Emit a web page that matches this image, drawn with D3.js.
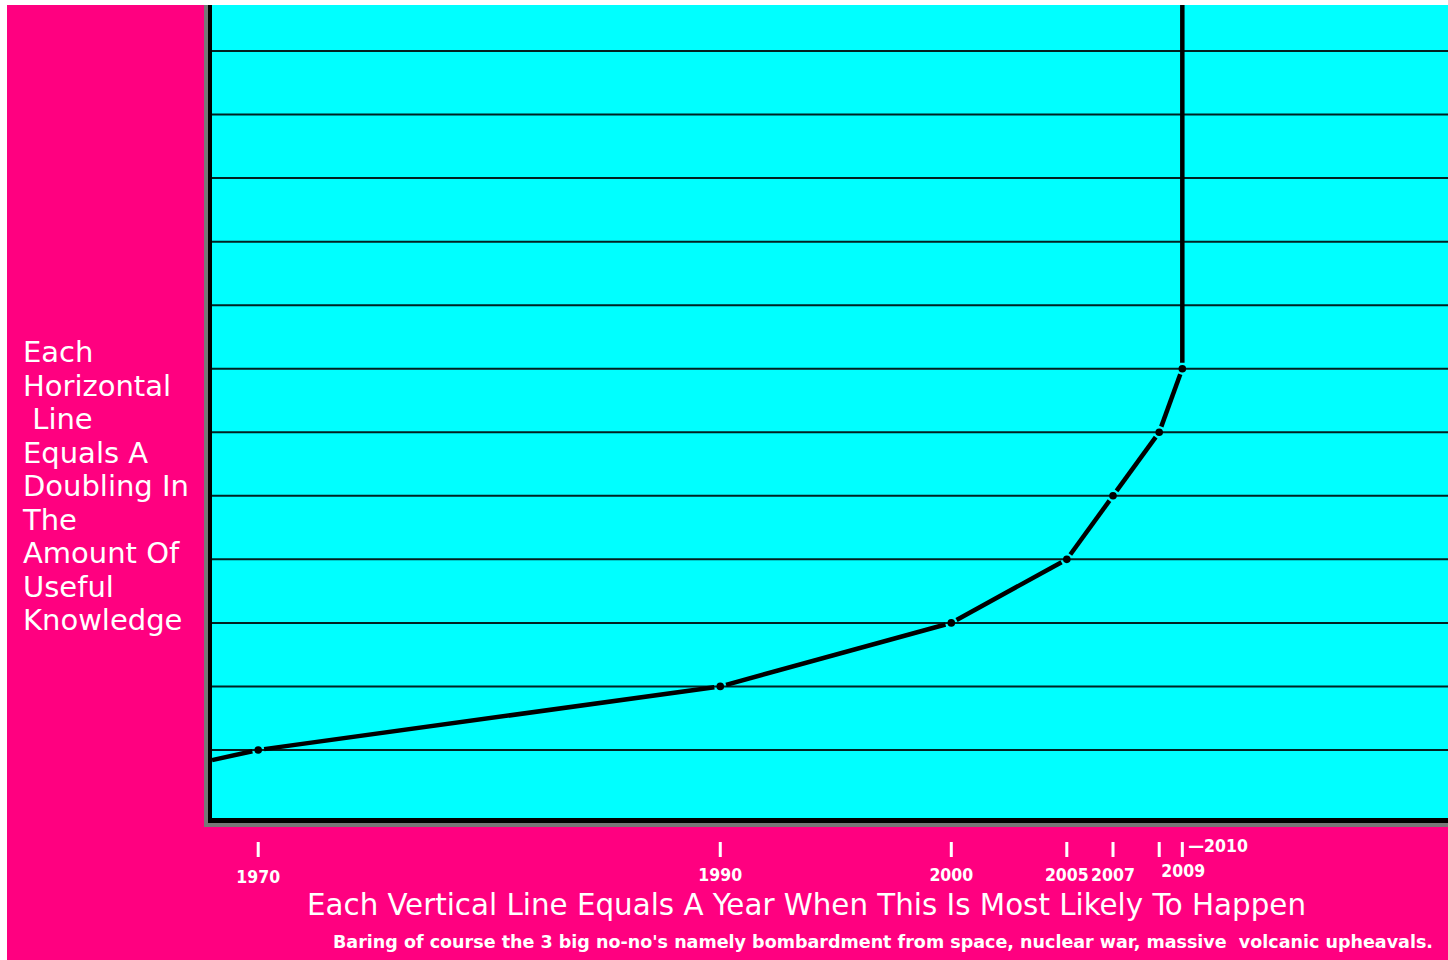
<!DOCTYPE html>
<html>
<head>
<meta charset="utf-8">
<script src="https://cdn.jsdelivr.net/npm/d3@7.9.0/dist/d3.min.js"></script>
<style>
  body { margin: 0; background: #fff; }
  svg { display: block; }
  text { white-space: pre; }
</style>
</head>
<body>
<svg id="chart" width="1448" height="960"></svg>
<script>
// Years written under the axis
const tickYears = [1970, 1990, 2000, 2005, 2007, 2009, 2010];
// The curve: year and number of doublings reached
const curveYears = [1968, 1970, 1990, 2000, 2005, 2007, 2009, 2010];
const curveDoublings = [0.84, 1, 2, 3, 4, 5, 6, 7];
// One horizontal line per doubling
const gridLevels = [1, 2, 3, 4, 5, 6, 7, 8, 9, 10, 11, 12];

const sideLabel = ["Each", "Horizontal", " Line", "Equals A", "Doubling In", "The", "Amount Of", "Useful", "Knowledge"];
const xTitle = "Each Vertical Line Equals A Year When This Is Most Likely To Happen";
const footNote = "Baring of course the 3 big no-no's namely bombardment from space, nuclear war, massive  volcanic upheavals.";

const pink = "#ff0080";
const cyan = "#00ffff";
const condensed = "DejaVu Sans Condensed, DejaVu Sans";

// Plot box
const plotLeft = 212, plotRight = 1448, plotTop = 5, plotBottom = 818;

const svg = d3.select("#chart");

// Backgrounds
svg.append("rect").attr("x", 7).attr("y", 5).attr("width", 1441).attr("height", 955).attr("fill", pink);
svg.append("rect").attr("x", plotLeft).attr("y", plotTop).attr("width", plotRight - plotLeft).attr("height", plotBottom - plotTop).attr("fill", cyan);

const x = d3.scaleLinear().domain([1968, 2021.5]).range([plotLeft, plotRight]);
const y = d3.scaleLinear().domain([0, 12]).range([813.5, 51]);

// Horizontal lines
svg.append("g").selectAll("line")
    .data(gridLevels)
    .enter()
    .append("line")
    .attr("x1", plotLeft)
    .attr("x2", plotRight)
    .attr("y1", d => y(d))
    .attr("y2", d => y(d))
    .attr("stroke", "#022")
    .attr("stroke-width", 2);

// Sunken frame on left and bottom
svg.append("rect").attr("x", 204).attr("y", plotTop).attr("width", 4).attr("height", plotBottom + 9 - plotTop).attr("fill", "#777");
svg.append("rect").attr("x", 204).attr("y", plotBottom + 5).attr("width", plotRight - 204).attr("height", 4).attr("fill", "#777");
svg.append("rect").attr("x", 208).attr("y", plotTop).attr("width", 4).attr("height", plotBottom + 5 - plotTop).attr("fill", "#000");
svg.append("rect").attr("x", 208).attr("y", plotBottom).attr("width", plotRight - 208).attr("height", 5).attr("fill", "#000");

// Curve, drawn as segments with a small gap around each marked point
let pts = curveYears.map((yr, i) => ({ yr: yr, px: x(yr), py: y(curveDoublings[i]), marked: tickYears.includes(yr) }));
// last stretch goes straight up to the top of the box
let last = pts[pts.length - 1];
pts.push({ yr: last.yr, px: last.px, py: plotTop, marked: false });

const gap = 6;
let segs = d3.pairs(pts).map(([a, b]) => {
    let dx = b.px - a.px, dy = b.py - a.py;
    let len = Math.hypot(dx, dy);
    let ga = a.marked ? gap : 0, gb = b.marked ? gap : 0;
    return {
        x1: a.px + dx * ga / len, y1: a.py + dy * ga / len,
        x2: b.px - dx * gb / len, y2: b.py - dy * gb / len
    };
});

let curve = svg.append("g");
curve.selectAll("line")
    .data(segs)
    .enter()
    .append("line")
    .attr("x1", d => d.x1).attr("y1", d => d.y1)
    .attr("x2", d => d.x2).attr("y2", d => d.y2)
    .attr("stroke", "#000")
    .attr("stroke-width", 4.5);

curve.selectAll("circle")
    .data(pts.filter(d => d.marked))
    .enter()
    .append("circle")
    .attr("cx", d => d.px)
    .attr("cy", d => d.py)
    .attr("r", 3.8)
    .attr("fill", "#000");

// Year ticks under the box
let ticks = svg.append("g");
ticks.selectAll("rect")
    .data(tickYears)
    .enter()
    .append("rect")
    .attr("x", d => x(d) - 1.5)
    .attr("y", 842)
    .attr("width", 3)
    .attr("height", 15)
    .attr("fill", "#fff");

ticks.selectAll("text")
    .data(tickYears)
    .enter()
    .append("text")
    .attr("x", d => d === 2010 ? x(d) + 6 : d === 2009 ? x(d) + 24 : x(d))
    .attr("y", d => d === 2010 ? 852 : d === 2009 ? 877 : d === 1970 ? 883 : 881)
    .attr("text-anchor", d => d === 2010 ? "start" : "middle")
    .attr("font-family", condensed)
    .attr("font-stretch", "condensed")
    .attr("font-weight", "bold")
    .attr("font-size", 17.5)
    .attr("fill", "#fff")
    .text(d => d === 2010 ? "\u2014" + d : d);

// Text on the left
svg.append("text")
    .attr("font-family", "DejaVu Sans")
    .attr("font-size", 29)
    .attr("fill", "#fff")
    .selectAll("tspan")
    .data(sideLabel)
    .enter()
    .append("tspan")
    .attr("x", 23)
    .attr("y", (d, i) => 362 + i * 33.5)
    .text(d => d);

// Titles under the axis
svg.append("text")
    .attr("x", 307)
    .attr("y", 915)
    .attr("font-family", condensed)
    .attr("font-stretch", "condensed")
    .attr("font-size", 30)
    .attr("textLength", 999)
    .attr("lengthAdjust", "spacingAndGlyphs")
    .attr("fill", "#fff")
    .text(xTitle);

svg.append("text")
    .attr("x", 333)
    .attr("y", 948)
    .attr("font-family", condensed)
    .attr("font-stretch", "condensed")
    .attr("font-weight", "bold")
    .attr("font-size", 18)
    .attr("textLength", 1100)
    .attr("lengthAdjust", "spacingAndGlyphs")
    .attr("fill", "#fff")
    .text(footNote);
</script>
</body>
</html>
